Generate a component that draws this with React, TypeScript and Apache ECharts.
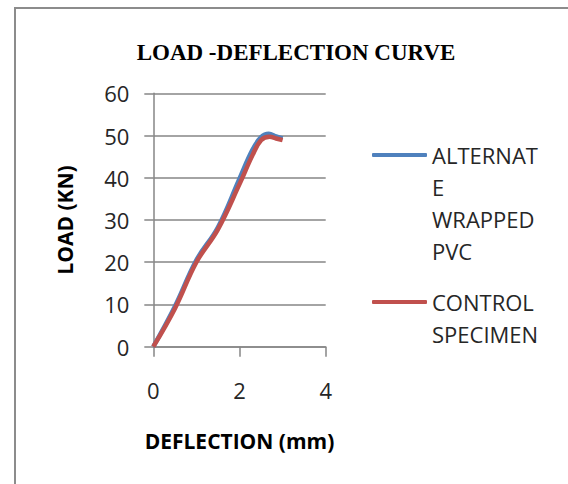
import React, { useEffect, useRef } from "react";
import * as echarts from "echarts";

const seriesNames = ["ALTERNATE WRAPPED PVC", "CONTROL SPECIMEN"];
const legendLines = [["ALTERNAT", "E", "WRAPPED", "PVC"], ["CONTROL", "SPECIMEN"]];
const alternateDeflection = [0, 0.5, 1.0, 1.5, 2.0, 2.3, 2.5, 2.68, 2.85, 3.0];
const alternateLoad = [0, 9.5, 20.5, 28.3, 39.8, 46.6, 49.6, 50.4, 49.8, 49.3];
const controlDeflection = [0, 0.5, 1.0, 1.5, 2.0, 2.3, 2.5, 2.7, 2.85, 3.0];
const controlLoad = [0, 9.0, 20.0, 27.8, 38.5, 45.3, 48.9, 49.7, 49.3, 48.9];
const xTicks = { min: 0, max: 4, interval: 2 };
const yTicks = { min: 0, max: 60, interval: 10 };

const LH = 32;
const FONT = "'Open Sans', 'Noto Sans', sans-serif";

export default function App() {
  const ref = useRef<HTMLDivElement>(null);
  useEffect(() => {
    if (!ref.current) return;
    const chart = echarts.init(ref.current, undefined, { renderer: "svg" });
    const pairs = (xs: number[], ys: number[]) => xs.map((x, i) => [x, ys[i]]);
    const colors = ["#4F81BD", "#C0504D"];
    const axisColor = "#868686";
    const legendFor = (idx: number, iconY: number) => {
      const n = legendLines[idx].length;
      const pad = n - 1;
      const total = (n + pad) * LH;
      const text = "\n".repeat(pad) + legendLines[idx].join("\n");
      return {
        show: true,
        orient: "vertical",
        left: 372,
        top: iconY - total / 2,
        padding: 0,
        icon: "roundRect",
        itemWidth: 55,
        itemHeight: 4,
        selectedMode: false,
        data: [
          {
            name: seriesNames[idx],
            itemStyle: { color: colors[idx] },
          },
        ],
        formatter: () => text,
        textStyle: {
          fontFamily: FONT,
          fontSize: 22,
          color: "#262626",
          lineHeight: LH,
        },
      };
    };
    chart.setOption({
      animation: false,
      backgroundColor: "#ffffff",
      title: {
        text: "LOAD -DEFLECTION CURVE",
        left: 291,
        top: 36,
        textAlign: "center",
        textStyle: {
          fontFamily: "'Liberation Serif', serif",
          fontWeight: "bold",
          fontSize: 23,
          color: "#000000",
        },
      },
      graphic: [
        {
          type: "rect",
          shape: { x: 15, y: 8, width: 700, height: 700 },
          style: { fill: "none", stroke: "#8c8c8c", lineWidth: 2 },
          silent: true,
        },
      ],
      legend: [legendFor(0, 155), legendFor(1, 302)],
      grid: { left: 153.3, right: 242.3, top: 93.3, bottom: 137.3 },
      xAxis: {
        type: "value",
        min: xTicks.min,
        max: xTicks.max,
        interval: xTicks.interval,
        name: "DEFLECTION (mm)",
        nameLocation: "middle",
        nameGap: 84,
        nameTextStyle: { fontFamily: FONT, fontWeight: "bold", fontSize: 21, color: "#000" },
        axisLine: { show: true, lineStyle: { color: axisColor, width: 1.5 } },
        axisTick: { show: true, length: 10, lineStyle: { color: axisColor, width: 1.5 } },
        axisLabel: { fontFamily: FONT, fontSize: 22, color: "#262626", margin: 32 },
        splitLine: { show: false },
      },
      yAxis: {
        type: "value",
        min: yTicks.min,
        max: yTicks.max,
        interval: yTicks.interval,
        name: "LOAD (KN)",
        nameLocation: "middle",
        nameGap: 78,
        nameRotate: 90,
        nameTextStyle: { fontFamily: FONT, fontWeight: "bold", fontSize: 21, color: "#000" },
        axisLine: { show: true, lineStyle: { color: axisColor, width: 1.5 } },
        axisTick: { show: true, length: 9, lineStyle: { color: axisColor, width: 1.5 } },
        axisLabel: { fontFamily: FONT, fontSize: 22, color: "#262626", margin: 24 },
        splitLine: { show: true, lineStyle: { color: axisColor, width: 1.5 } },
      },
      series: [
        {
          name: seriesNames[0],
          type: "line",
          data: pairs(alternateDeflection, alternateLoad),
          smooth: 0.4,
          showSymbol: false,
          lineStyle: { color: colors[0], width: 4.5 },
          itemStyle: { color: colors[0] },
        },
        {
          name: seriesNames[1],
          type: "line",
          data: pairs(controlDeflection, controlLoad),
          smooth: 0.4,
          showSymbol: false,
          lineStyle: { color: colors[1], width: 4.5 },
          itemStyle: { color: colors[1] },
        },
      ],
    });
    return () => chart.dispose();
  }, []);
  return (
    <div
      ref={ref}
      style={{ position: "fixed", left: 0, top: 0, width: 568, height: 484 }}
    />
  );
}
